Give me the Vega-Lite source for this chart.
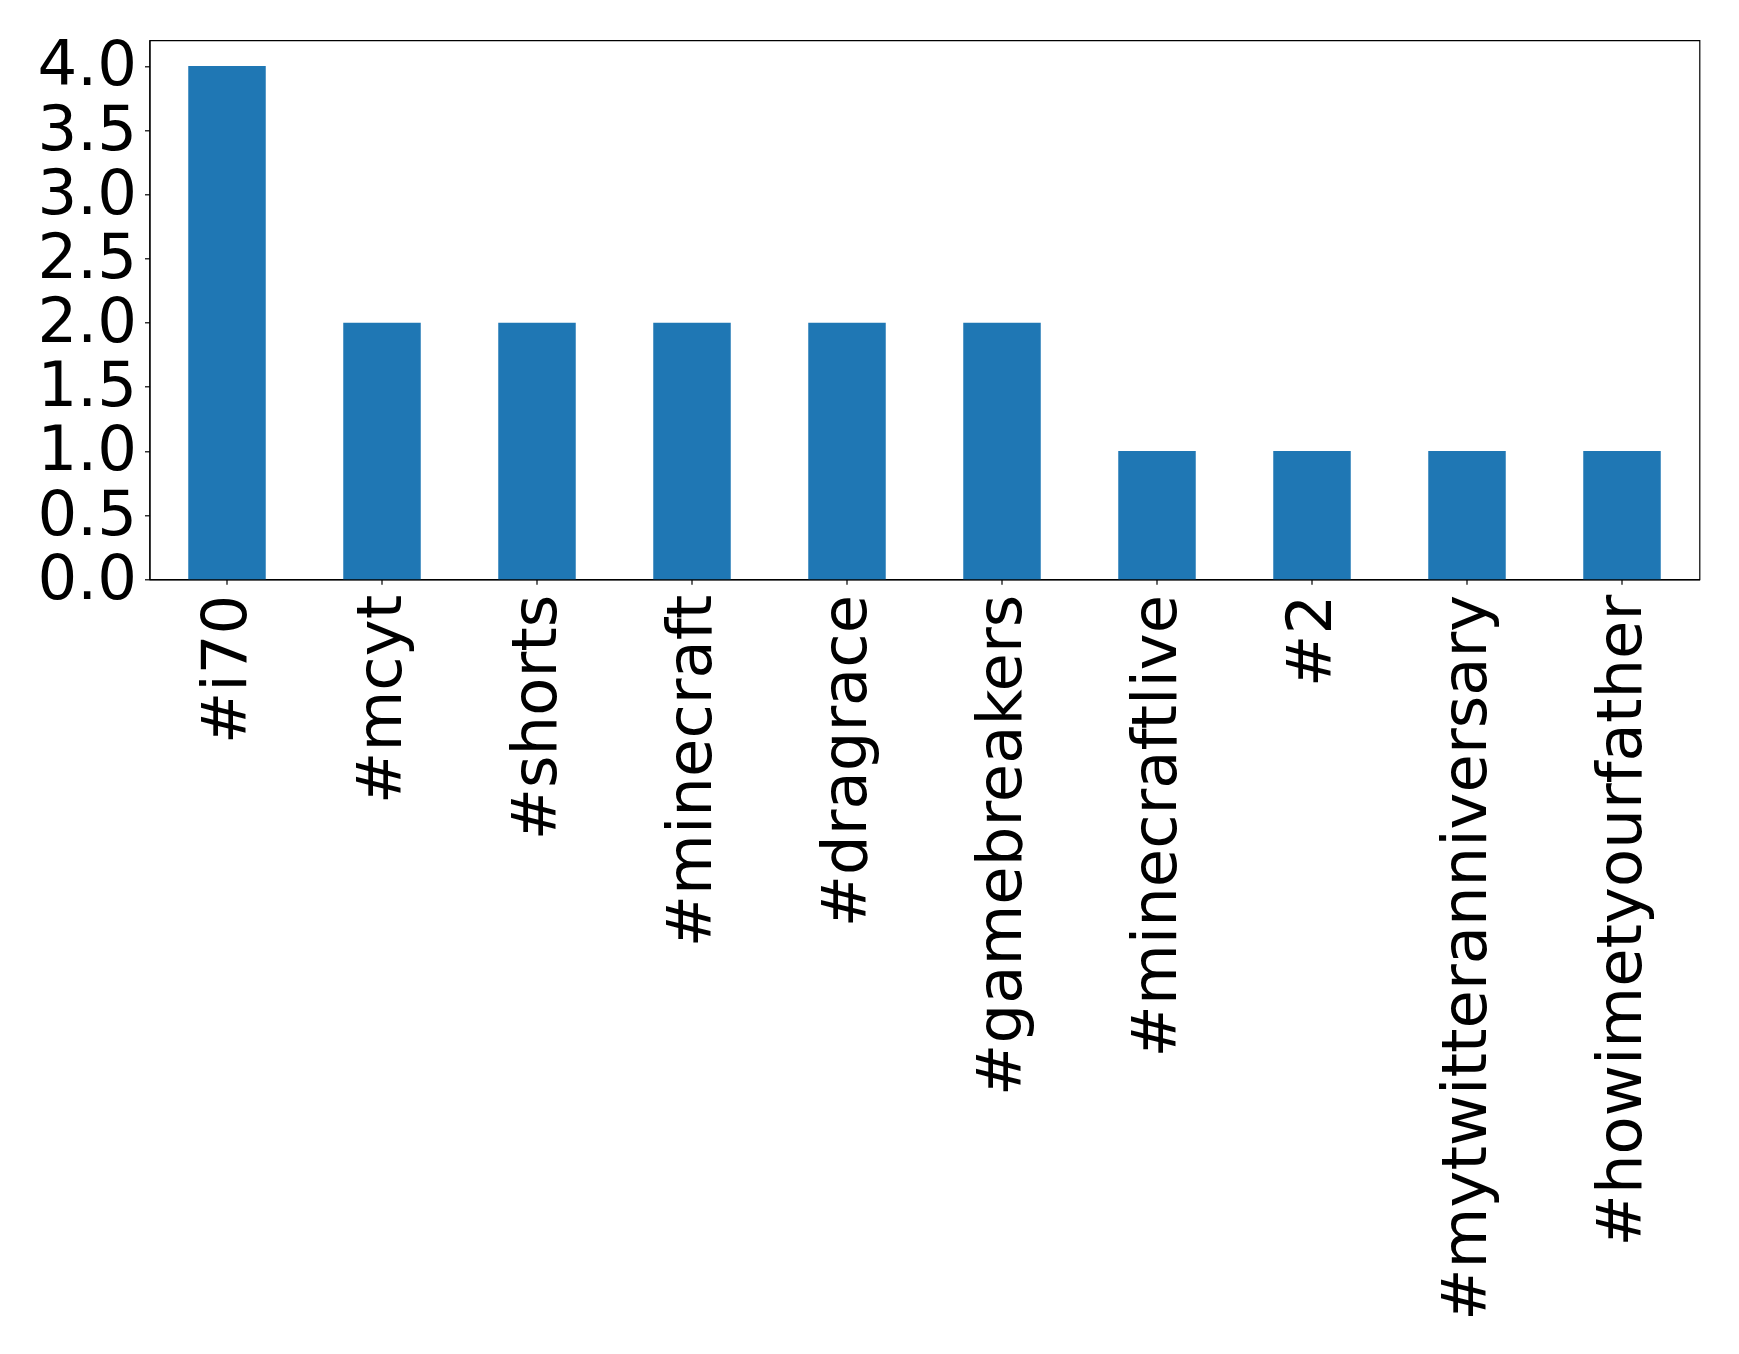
{
  "$schema": "https://vega.github.io/schema/vega-lite/v6.json",
  "width": 1550,
  "height": 539,
  "autosize": {"type": "none"},
  "padding": {"left": 149.5, "top": 40.3, "right": 39.5, "bottom": 774.7},
  "background": "white",
  "config": {
    "view": {"stroke": "black", "strokeWidth": 1.2},
    "axis": {
      "labelFont": "DejaVu Sans",
      "labelFontSize": 62.5,
      "labelColor": "black",
      "domainColor": "black",
      "tickColor": "black",
      "tickSize": 5,
      "tickWidth": 1.2,
      "domainWidth": 1.2,
      "grid": false,
      "title": null
    }
  },
  "data": {
    "values": [
      {"hashtag": "#i70", "count": 4},
      {"hashtag": "#mcyt", "count": 2},
      {"hashtag": "#shorts", "count": 2},
      {"hashtag": "#minecraft", "count": 2},
      {"hashtag": "#dragrace", "count": 2},
      {"hashtag": "#gamebreakers", "count": 2},
      {"hashtag": "#minecraftlive", "count": 1},
      {"hashtag": "#2", "count": 1},
      {"hashtag": "#mytwitteranniversary", "count": 1},
      {"hashtag": "#howimetyourfather", "count": 1}
    ]
  },
  "mark": {"type": "bar", "color": "#1f77b4"},
  "encoding": {
    "x": {
      "field": "hashtag",
      "type": "nominal",
      "sort": null,
      "scale": {"paddingInner": 0.5, "paddingOuter": 0.25},
      "axis": {"labelAngle": -90, "labelPadding": 10, "labelLimit": 0}
    },
    "y": {
      "field": "count",
      "type": "quantitative",
      "scale": {"domain": [0, 4.2], "nice": false},
      "axis": {"values": [0, 0.5, 1, 1.5, 2, 2.5, 3, 3.5, 4], "format": ".1f", "labelPadding": 8}
    }
  }
}
